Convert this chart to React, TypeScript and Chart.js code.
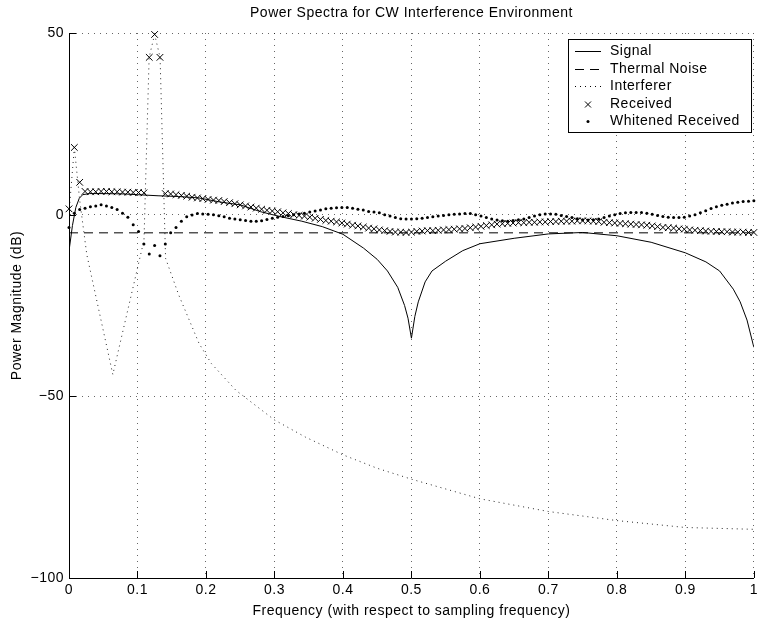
import React, { useEffect, useRef } from 'react';
import { Chart, registerables } from 'chart.js';

Chart.register(...registerables);

const FONT = '"Liberation Sans", Arial, Helvetica, sans-serif';
const FONT_SIZE = 14;
const LETTER_SPACING = '0.5px';
const TITLE = 'Power Spectra for CW Interference Environment';
const X_TITLE = 'Frequency (with respect to sampling frequency)';
const Y_TITLE = 'Power Magnitude (dB)';
const LEGEND_LABELS = ['Signal', 'Thermal Noise', 'Interferer', 'Received', 'Whitened Received'];

const xTickValues = [0, 0.1, 0.2, 0.3, 0.4, 0.5, 0.6, 0.7, 0.8, 0.9, 1];
const yTickValues = [-100, -50, 0, 50];

// Signal (solid)
const signalFreq = [0, 0.005, 0.01, 0.015, 0.02, 0.03, 0.05, 0.08, 0.1, 0.13, 0.16, 0.19, 0.22, 0.25, 0.28, 0.31, 0.34, 0.37, 0.4, 0.43, 0.45, 0.465, 0.48, 0.49, 0.495, 0.5, 0.505, 0.51, 0.52, 0.53, 0.55, 0.575, 0.6, 0.65, 0.7, 0.75, 0.8, 0.85, 0.9, 0.93, 0.95, 0.97, 0.98, 0.99, 1.0];
const signalDb = [-10, -3, 2, 4.5, 5.5, 5.8, 5.8, 5.7, 5.5, 5.2, 5.0, 4.6, 3.5, 2.7, 0.8, -0.6, -1.8, -3.3, -5.4, -9.2, -12.3, -15.5, -20, -25, -28.5, -34, -28, -24, -18.5, -15.5, -12.8, -9.9, -8, -6.5, -5.3, -4.9, -5.8, -7.6, -10.5, -13, -15.5, -20.5, -24, -29, -36.5];

// Thermal noise (dashed)
const noiseFreq = [0, 1];
const noiseDb = [-5, -5];

// Interferer (dotted)
const interfFreq = [0, 0.0078, 0.0156, 0.026, 0.064, 0.1095, 0.117, 0.125, 0.133, 0.141, 0.16, 0.19, 0.208, 0.244, 0.3, 0.345, 0.4, 0.45, 0.5, 0.6, 0.7, 0.8, 0.9, 1.0];
const interfDb = [0.5, 18.5, 4, -11, -44, -7, 43.3, 49.6, 43.3, -12, -22, -35.5, -41, -48.4, -56.5, -61.2, -66.1, -69.8, -72.8, -78.2, -81.7, -84.2, -86.1, -86.6];

// Received (x markers), bins k/128, k = 0..128
const receivedDb = [
  1.6, 18.5, 8.9, 6.4, 6.3, 6.3, 6.4, 6.4, 6.3, 6.3, 6.2, 6.2, 6.1, 6.1, 6.0,
  43.3, 49.6, 43.3,
  5.8, 5.7, 5.5, 5.3, 5.1, 4.8, 4.6, 4.4, 4.2, 4.0, 3.9, 3.6, 3.3, 3.0, 2.7, 2.4, 2.1, 1.8,
  1.5, 1.2, 1.0, 0.8, 0.5, 0.3, 0.0, -0.2, -0.4, -0.7, -1.0, -1.3, -1.6, -1.8, -2.0, -2.3,
  -2.6, -2.9, -3.1, -3.4, -3.7, -3.9, -4.2, -4.4, -4.6, -4.8, -4.8, -4.9, -4.8, -4.6, -4.5,
  -4.4, -4.4, -4.3, -4.2, -4.1, -4.0, -3.9, -3.8, -3.6, -3.4, -3.2, -3.0, -2.8, -2.6, -2.5,
  -2.4, -2.3, -2.2, -2.2, -2.1, -2.1, -2.0, -2.0, -1.9, -1.9, -1.8, -1.8, -1.8, -1.7, -1.7,
  -1.7, -1.8, -1.9, -2.1, -2.2, -2.3, -2.4, -2.5, -2.6, -2.7, -2.8, -2.9, -3.1, -3.3, -3.5,
  -3.6, -3.7, -3.9, -4.0, -4.2, -4.3, -4.4, -4.5, -4.6, -4.6, -4.7, -4.7, -4.8, -4.8, -4.8,
  -4.9, -4.9,
];

// Whitened received (dots), bins k/128, k = 0..128
const whitenedDb = [
  -3.5, 0.4, 1.4, 1.8, 2.2, 2.4, 2.7, 2.4, 2.0, 1.4, 0.4, -0.7, -2.8, -4.6, -8.1, -10.8,
  -8.5, -11.3, -8.1, -5.0, -3.5, -1.8, -0.6, -0.1, 0.3, 0.2, 0.1, 0.0, -0.3, -0.6, -1.0,
  -1.2, -1.4, -1.6, -1.8, -1.8, -1.7, -1.3, -1.0, -0.7, -0.5, -0.3, 0.0, 0.2, 0.4, 0.7,
  1.0, 1.3, 1.6, 1.8, 1.9, 2.0, 2.0, 1.8, 1.5, 1.3, 0.9, 0.7, 0.5, 0.0, -0.4, -0.8, -1.1,
  -1.2, -1.2, -1.1, -1.0, -0.8, -0.6, -0.4, -0.2, 0.0, 0.1, 0.2, 0.3, 0.3, 0.0, -0.4, -0.8,
  -1.2, -1.5, -1.7, -1.8, -1.6, -1.4, -1.2, -0.8, -0.4, 0.0, 0.2, 0.2, 0.1, -0.2, -0.5,
  -0.8, -1.1, -1.4, -1.5, -1.4, -1.2, -0.8, -0.4, 0.0, 0.3, 0.5, 0.6, 0.6, 0.6, 0.4, 0.1,
  -0.2, -0.5, -0.7, -0.8, -0.8, -0.7, -0.4, 0.0, 0.5, 1.1, 1.7, 2.2, 2.6, 2.9, 3.2, 3.4,
  3.6, 3.7, 3.8,
];

const NUM_BINS = 128;
const binFreq = receivedDb.map((_, k) => k / NUM_BINS);

const pts = (xs: number[], ys: number[]) => xs.map((x, i) => ({ x, y: ys[i] }));

const GRID_COLOR = 'rgba(0,0,0,0.6)';
const GRID_DASH = [1, 5];
const NOISE_DASH = [9, 6];
const INTERF_DASH = [1, 4];

const setSpacing = (chart: any) => {
  try {
    chart.ctx.letterSpacing = LETTER_SPACING;
  } catch (e) {
    /* ignore */
  }
};

const matlabDecor = {
  id: 'matlabDecor',
  beforeUpdate(chart: any) {
    setSpacing(chart);
  },
  beforeLayout(chart: any) {
    setSpacing(chart);
  },
  beforeDraw(chart: any) {
    setSpacing(chart);
  },
  afterDatasetsDraw(chart: any) {
    const { ctx, chartArea, scales } = chart;
    const xs = scales.x;
    const ys = scales.y;
    ctx.save();
    ctx.strokeStyle = '#000';
    ctx.lineWidth = 1;
    ctx.setLineDash([]);
    const TL = 7;
    for (const v of xTickValues) {
      const px = Math.round(xs.getPixelForValue(v)) + 0.5;
      ctx.beginPath();
      ctx.moveTo(px, chartArea.bottom);
      ctx.lineTo(px, chartArea.bottom - TL);
      ctx.stroke();
    }
    for (const v of yTickValues) {
      const py = Math.round(ys.getPixelForValue(v)) + 0.5;
      ctx.beginPath();
      ctx.moveTo(chartArea.left, py);
      ctx.lineTo(chartArea.left + TL, py);
      ctx.stroke();
    }
    ctx.restore();
  },
  afterDraw(chart: any) {
    const { ctx, chartArea } = chart;
    ctx.save();
    ctx.letterSpacing = LETTER_SPACING;
    ctx.fillStyle = '#000';
    ctx.font = `${FONT_SIZE}px ${FONT}`;
    ctx.textAlign = 'center';
    ctx.textBaseline = 'middle';
    ctx.fillText(TITLE, (chartArea.left + chartArea.right) / 2, 13);

    const L = 568, T = 39, W = 183, H = 93;
    ctx.fillStyle = '#fff';
    ctx.fillRect(L, T, W, H);
    ctx.strokeStyle = '#000';
    ctx.lineWidth = 1;
    ctx.setLineDash([]);
    ctx.strokeRect(L + 0.5, T + 0.5, W, H);

    const rowY = (i: number) => Math.round(T + 12 + i * 17.6) + 0.5;
    const sx0 = 575, sx1 = 601, sxm = 588;
    ctx.textAlign = 'left';
    ctx.textBaseline = 'middle';
    LEGEND_LABELS.forEach((label, i) => {
      const y = rowY(i);
      ctx.strokeStyle = '#000';
      ctx.fillStyle = '#000';
      ctx.lineWidth = 1;
      if (i === 0 || i === 1 || i === 2) {
        ctx.setLineDash(i === 0 ? [] : i === 1 ? NOISE_DASH : INTERF_DASH);
        ctx.beginPath();
        ctx.moveTo(sx0, y);
        ctx.lineTo(sx1, y);
        ctx.stroke();
        ctx.setLineDash([]);
      } else if (i === 3) {
        const r = 3;
        ctx.beginPath();
        ctx.moveTo(sxm - r, y - r);
        ctx.lineTo(sxm + r, y + r);
        ctx.moveTo(sxm + r, y - r);
        ctx.lineTo(sxm - r, y + r);
        ctx.stroke();
      } else {
        ctx.beginPath();
        ctx.arc(sxm, y, 1.5, 0, Math.PI * 2);
        ctx.fill();
      }
      ctx.fillStyle = '#000';
      ctx.fillText(label, 610, y);
    });
    ctx.restore();
  },
};

export default function App() {
  const canvasRef = useRef<HTMLCanvasElement | null>(null);

  useEffect(() => {
    const canvas = canvasRef.current;
    if (!canvas) return;
    const tickFont = { family: FONT, size: FONT_SIZE };
    const chart = new Chart(canvas, {
      type: 'scatter',
      data: {
        datasets: [
          {
            label: LEGEND_LABELS[0],
            data: pts(signalFreq, signalDb),
            showLine: true,
            borderColor: '#000',
            borderWidth: 1,
            pointRadius: 0,
            fill: false,
            tension: 0,
          },
          {
            label: LEGEND_LABELS[1],
            data: pts(noiseFreq, noiseDb),
            showLine: true,
            borderColor: '#000',
            borderWidth: 1,
            borderDash: NOISE_DASH,
            pointRadius: 0,
            fill: false,
          },
          {
            label: LEGEND_LABELS[2],
            data: pts(interfFreq, interfDb),
            showLine: true,
            borderColor: 'rgba(0,0,0,0.85)',
            borderWidth: 1,
            borderDash: INTERF_DASH,
            pointRadius: 0,
            fill: false,
          },
          {
            label: LEGEND_LABELS[3],
            data: pts(binFreq, receivedDb),
            showLine: false,
            pointStyle: 'crossRot',
            pointRadius: 4.7,
            pointBorderWidth: 1,
            pointBorderColor: '#000',
            borderColor: '#000',
            clip: false,
          },
          {
            label: LEGEND_LABELS[4],
            data: pts(binFreq, whitenedDb),
            showLine: false,
            pointStyle: 'circle',
            pointRadius: 1.5,
            pointBorderWidth: 0,
            pointBackgroundColor: '#000',
            borderColor: '#000',
            clip: false,
          },
        ],
      },
      options: {
        animation: false,
        responsive: false,
        events: [],
        layout: { padding: { top: 33, right: 2, left: 0, bottom: 0 } },
        plugins: {
          legend: { display: false },
          tooltip: { enabled: false },
          title: { display: false },
        },
        scales: {
          x: {
            type: 'linear',
            min: 0,
            max: 1,
            afterBuildTicks: (s: any) => {
              s.ticks = xTickValues.map((v) => ({ value: v }));
            },
            afterFit: (s: any) => {
              s.height = 48;
            },
            ticks: {
              autoSkip: false,
              maxRotation: 0,
              padding: 4,
              color: '#000',
              font: tickFont,
              callback: (v: any) => String(Math.round(Number(v) * 10) / 10),
            },
            grid: { color: GRID_COLOR, lineWidth: 1, drawTicks: false },
            border: { display: true, color: '#000', width: 1, dash: GRID_DASH },
            title: {
              display: true,
              text: X_TITLE,
              color: '#000',
              font: tickFont,
              padding: { top: 0, bottom: 6 },
            },
          },
          y: {
            type: 'linear',
            min: -100,
            max: 50,
            afterBuildTicks: (s: any) => {
              s.ticks = yTickValues.map((v) => ({ value: v }));
            },
            afterFit: (s: any) => {
              s.width = 69;
            },
            ticks: {
              autoSkip: false,
              padding: 5,
              color: '#000',
              font: tickFont,
              callback: (v: any) => String(v).replace('-', '\u2212'),
            },
            grid: { color: GRID_COLOR, lineWidth: 1, drawTicks: false },
            border: { display: true, color: '#000', width: 1, dash: GRID_DASH },
            title: {
              display: true,
              text: Y_TITLE,
              color: '#000',
              font: tickFont,
              padding: { top: 9, bottom: 0 },
            },
          },
        },
      },
      plugins: [matlabDecor],
    } as any);
    return () => chart.destroy();
  }, []);

  return (
    <div style={{ position: 'fixed', left: 0, top: 0, width: 762, height: 626, background: '#fff' }}>
      <canvas ref={canvasRef} width={762} height={626} style={{ display: 'block' }} />
    </div>
  );
}
